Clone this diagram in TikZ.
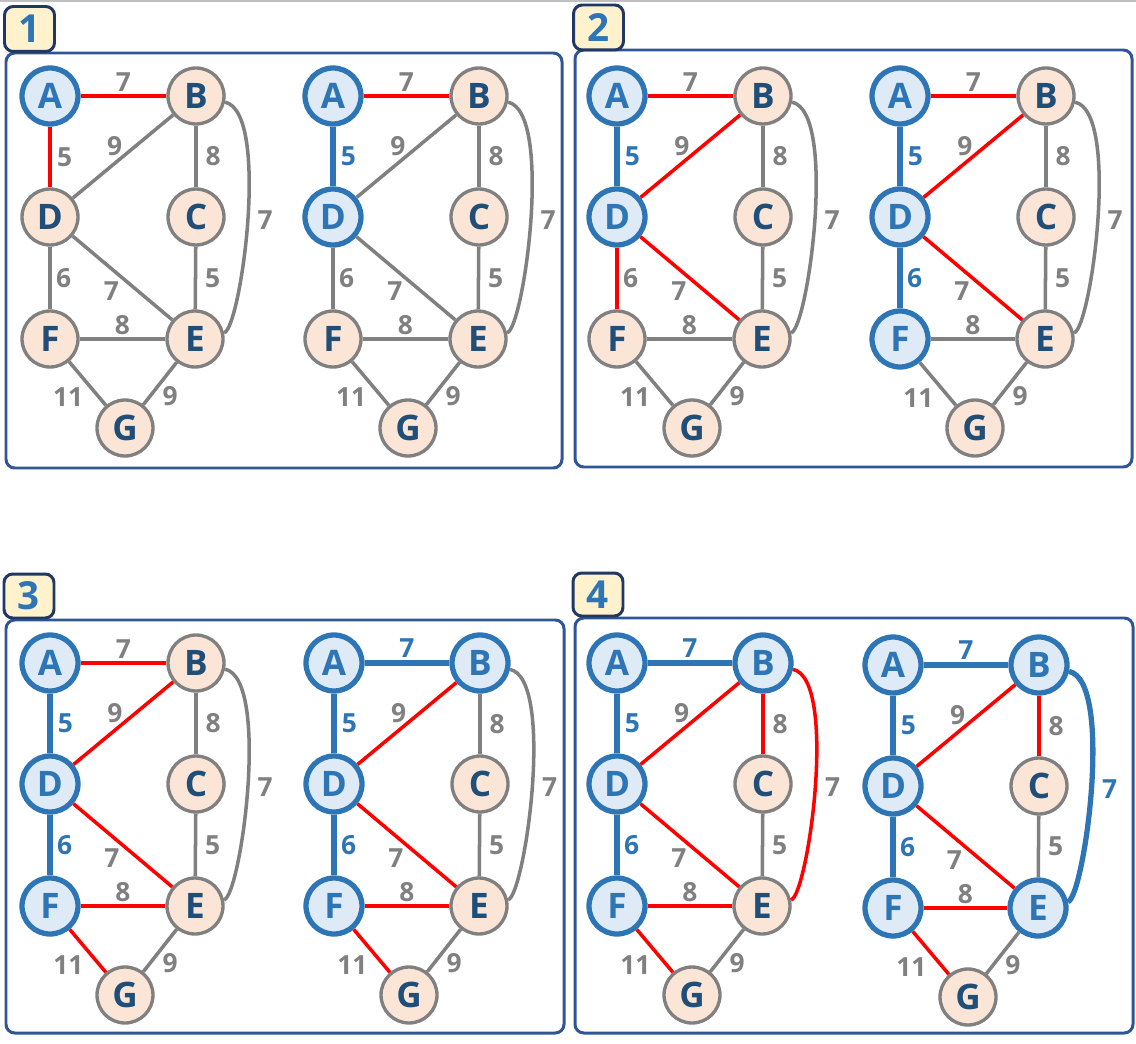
\documentclass[tikz,border=0pt]{standalone}
\usepackage{fontspec}
\usepackage{xcolor}
\usepackage{tikz}
\setmainfont{Open Sans}
\definecolor{MyBlue}{RGB}{46,117,182}
\definecolor{MyPaleBlue}{RGB}{222,235,247}
\definecolor{MyPeach}{RGB}{251,229,214}
\definecolor{MyNavy}{RGB}{31,78,121}
\definecolor{MyGray}{RGB}{128,128,128}
\definecolor{MyRed}{RGB}{255,0,0}
\definecolor{MyFrame}{RGB}{47,85,151}
\definecolor{MyTabFill}{RGB}{255,242,204}
\definecolor{MyTabLine}{RGB}{32,56,100}
\tikzset{
    vertex/.style={circle, minimum size=1.12cm, inner sep=0pt,
        font=\fontsize{20}{20}\selectfont\bfseries},
    plainnode/.style={vertex, draw=MyGray, fill=MyPeach, text=MyNavy, line width=1.9pt},
    visitnode/.style={vertex, draw=MyBlue, fill=MyPaleBlue, text=MyBlue, line width=3pt},
    plainedge/.style={color=MyGray, line width=2pt},
    candedge/.style={plainedge, draw=MyRed},
    treeedge/.style={color=MyBlue, line width=3pt},
    wlabel/.style={font=\fontsize{15}{15}\selectfont\bfseries, inner sep=1.5pt},
    panel/.style={draw=MyFrame, line width=1.7pt, rounded corners=5pt},
    tab/.style={draw=MyTabLine, fill=MyTabFill, line width=1.7pt, rounded corners=5pt},
    tabnum/.style={text=MyBlue, font=\fontsize{22}{22}\selectfont\bfseries},
    nA/.style={plainnode}, nB/.style={plainnode}, nC/.style={plainnode},
    nD/.style={plainnode}, nE/.style={plainnode}, nF/.style={plainnode},
    nG/.style={plainnode},
    eAB/.style={plainedge}, eAD/.style={plainedge}, eBD/.style={plainedge},
    eBC/.style={plainedge}, eBE/.style={plainedge}, eCE/.style={plainedge},
    eDF/.style={plainedge}, eDE/.style={plainedge}, eFE/.style={plainedge},
    eFG/.style={plainedge}, eEG/.style={plainedge}
}
\newcommand{\primgraph}{%
    \node[nA] (A) at (0,0) {A};
    \node[nB] (B) at (146,0) {B};
    \node[nC] (C) at (146,121) {C};
    \node[nD] (D) at (0,121) {D};
    \node[nE] (E) at (145,243) {E};
    \node[nF] (F) at (0,243) {F};
    \node[nG] (G) at (75,332) {G};
    \draw[eAB] (A) -- node[wlabel, above] {7} (B);
    \draw[eAD] (A) -- node[wlabel, right=1.5pt] {5} (D);
    \draw[eBD] (B) -- node[wlabel, above left=-2pt] {9} (D);
    \draw[eBC] (B) -- node[wlabel, right=3pt] {8} (C);
    \draw[eBE] (B) to[out=-12, in=12, looseness=.5] node[wlabel, right=3pt] {7} (E);
    \draw[eCE] (C) -- node[wlabel, right=3pt] {5} (E);
    \draw[eDF] (D) -- node[wlabel, right=1pt] {6} (F);
    \draw[eDE] (D) -- node[wlabel, below left=-0.5pt] {7} (E);
    \draw[eFE] (F) -- node[wlabel, above] {8} (E);
    \draw[eFG] (F) -- node[wlabel, below left] {11} (G);
    \draw[eEG] (E) -- node[wlabel, below right=-1pt] {9} (G);
}

\begin{document}
\begin{tikzpicture}[x=0.02cm, y=-0.02cm]
    \useasboundingbox (0,0) rectangle (1136,1044);
    \draw[color=MyGray!50, line width=1.2pt] (0,1) -- (1136,1);
    % frames and step tabs
    \draw[panel] (6,53) rectangle (562,468);
    \draw[panel] (575,50) rectangle (1132,467);
    \draw[panel] (6,620) rectangle (564,1033);
    \draw[panel] (575,618) rectangle (1133,1033);
    \node[tab, tabnum, minimum width=1.0cm, minimum height=0.9cm] (t1) at (29.5,29) {1};
    \node[tab, tabnum, minimum width=1.0cm, minimum height=0.9cm] (t2) at (598.5,27.5) {2};
    \node[tab, tabnum, minimum width=1.0cm, minimum height=0.88cm] (t3) at (29,596) {3};
    \node[tab, tabnum, minimum width=1.0cm, minimum height=0.86cm] (t4) at (598,594.5) {4};
    % step 1
    \begin{scope}[shift={(50,96)}, name prefix=s1a-, nA/.style={visitnode},
        eAB/.style={candedge}, eAD/.style={candedge}]
        \primgraph
    \end{scope}
    \begin{scope}[shift={(333,96)}, name prefix=s1b-, nA/.style={visitnode},
        nD/.style={visitnode}, eAD/.style={treeedge}, eAB/.style={candedge}]
        \primgraph
    \end{scope}
    % step 2
    \begin{scope}[shift={(617,96)}, name prefix=s2a-, nA/.style={visitnode},
        nD/.style={visitnode}, eAD/.style={treeedge}, eAB/.style={candedge},
        eBD/.style={candedge}, eDE/.style={candedge}, eDF/.style={candedge}]
        \primgraph
    \end{scope}
    \begin{scope}[shift={(900,96)}, name prefix=s2b-, nA/.style={visitnode},
        nD/.style={visitnode}, nF/.style={visitnode}, eAD/.style={treeedge},
        eDF/.style={treeedge}, eAB/.style={candedge}, eBD/.style={candedge},
        eDE/.style={candedge}]
        \primgraph
    \end{scope}
    % step 3
    \begin{scope}[shift={(50,663)}, name prefix=s3a-, nA/.style={visitnode},
        nD/.style={visitnode}, nF/.style={visitnode}, eAD/.style={treeedge},
        eDF/.style={treeedge}, eAB/.style={candedge}, eBD/.style={candedge},
        eDE/.style={candedge}, eFE/.style={candedge}, eFG/.style={candedge}]
        \primgraph
    \end{scope}
    \begin{scope}[shift={(334,663)}, name prefix=s3b-, nA/.style={visitnode},
        nB/.style={visitnode}, nD/.style={visitnode}, nF/.style={visitnode},
        eAB/.style={treeedge}, eAD/.style={treeedge}, eDF/.style={treeedge},
        eBD/.style={candedge}, eDE/.style={candedge}, eFE/.style={candedge},
        eFG/.style={candedge}]
        \primgraph
    \end{scope}
    % step 4
    \begin{scope}[shift={(617,663)}, name prefix=s4a-, nA/.style={visitnode},
        nB/.style={visitnode}, nD/.style={visitnode}, nF/.style={visitnode},
        eAB/.style={treeedge}, eAD/.style={treeedge}, eDF/.style={treeedge},
        eBD/.style={candedge}, eBC/.style={candedge}, eBE/.style={candedge},
        eDE/.style={candedge}, eFE/.style={candedge}, eFG/.style={candedge}]
        \primgraph
    \end{scope}
    \begin{scope}[shift={(893,665)}, name prefix=s4b-, nA/.style={visitnode},
        nB/.style={visitnode}, nD/.style={visitnode}, nE/.style={visitnode},
        nF/.style={visitnode}, eAB/.style={treeedge}, eAD/.style={treeedge},
        eDF/.style={treeedge}, eBE/.style={treeedge}, eBD/.style={candedge},
        eBC/.style={candedge}, eDE/.style={candedge}, eFE/.style={candedge},
        eFG/.style={candedge}]
        \primgraph
    \end{scope}
\end{tikzpicture}
\end{document}
